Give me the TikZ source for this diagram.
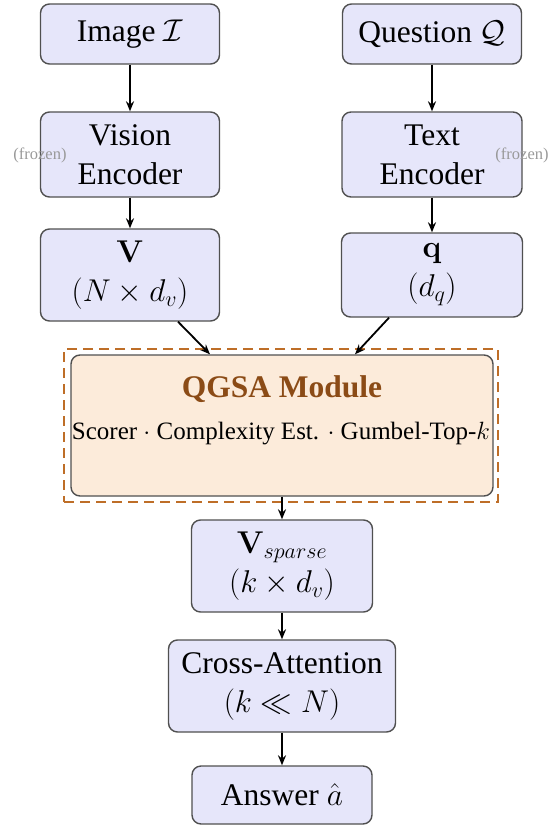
\RequirePackage{fix-cm}
\documentclass[tikz,border=0pt]{standalone}
\usepackage[no-math]{fontspec}
\setmainfont{Liberation Serif}
\usetikzlibrary{arrows.meta,calc}
\definecolor{boxfill}{RGB}{230,230,250}
\definecolor{boxdraw}{RGB}{80,80,80}
\definecolor{qfill}{RGB}{252,235,218}
\definecolor{qtitle}{RGB}{139,75,22}
\definecolor{qdash}{RGB}{190,110,40}
\begin{document}
\begin{tikzpicture}[x=1pt,y=-1pt,
  blk/.style={draw=boxdraw, line width=1.4pt, fill=boxfill, rounded corners=9pt,
    align=center, inner sep=0pt, font=\fontsize{31.5}{39}\selectfont},
  arr/.style={-{Stealth[length=10pt,width=8pt]}, line width=1.8pt},
  frz/.style={text=gray!80, font=\fontsize{16.5}{20}\selectfont, inner sep=0pt}]
\useasboundingbox (0,0) rectangle (553,825);
% inputs
\node[blk, minimum width=179pt, minimum height=60pt] (img) at (130,34) {Image $\mathcal{I}$};
\node[blk, minimum width=179pt, minimum height=60pt] (qst) at (432,34) {Question $\mathcal{Q}$};
% encoders
\node[blk, minimum width=179pt, minimum height=85pt] (venc) at (130,154.5) {Vision\\Encoder};
\node[blk, minimum width=180pt, minimum height=85pt] (tenc) at (432,154.5) {Text\\Encoder};
% features
\node[blk, minimum width=179pt, minimum height=92pt] (V) at (130,275) {$\mathbf{V}$\\$(N\times d_v)$};
\node[blk, minimum width=181pt, minimum height=84pt] (q) at (432,275) {$\mathbf{q}$\\$(d_q)$};
% frozen labels
\node[frz] (fl) at (40,155) {(frozen)};
\node[frz] (fr) at (522,155) {(frozen)};
% QGSA module
\node[draw=qdash, line width=2.2pt, dash pattern=on 10pt off 6pt,
  minimum width=434pt, minimum height=153pt, inner sep=0pt] (qouter) at (281,425.5) {};
\node[draw=boxdraw, line width=1.4pt, fill=qfill, rounded corners=9pt,
  minimum width=422pt, minimum height=141pt, inner sep=0pt] (qgsa) at (282,425.5) {};
\node[text=qtitle, font=\fontsize{31.5}{39}\selectfont\bfseries, inner sep=0pt] (qt) at (282,389) {QGSA Module};
\node[font=\fontsize{25}{30}\selectfont, inner sep=0pt] (qs) at (281,434) {Scorer $\cdot$ Complexity Est. $\cdot$ Gumbel-Top-$k$};
% downstream
\node[blk, minimum width=181pt, minimum height=92pt] (vs) at (282,566) {$\mathbf{V}_{sparse}$\\$(k\times d_v)$};
\node[blk, minimum width=227pt, minimum height=92pt] (ca) at (282,686) {Cross-Attention\\$(k\ll N)$};
\node[blk, minimum width=180pt, minimum height=58pt] (ans) at (282,795) {Answer $\hat{a}$};
% arrows
\draw[arr] (img) -- (venc);
\draw[arr] (qst) -- (tenc);
\draw[arr] (venc) -- (V);
\draw[arr] (tenc) -- (q);
\draw[arr] ([xshift=48pt]V.south) -- ([xshift=-72pt]qgsa.north);
\draw[arr] ([xshift=-43pt]q.south) -- ([xshift=73pt]qgsa.north);
\draw[arr] (qgsa.south) -- (qgsa.south |- vs.north);
\draw[arr] (vs) -- (ca);
\draw[arr] (ca) -- (ans);
\end{tikzpicture}
\end{document}
